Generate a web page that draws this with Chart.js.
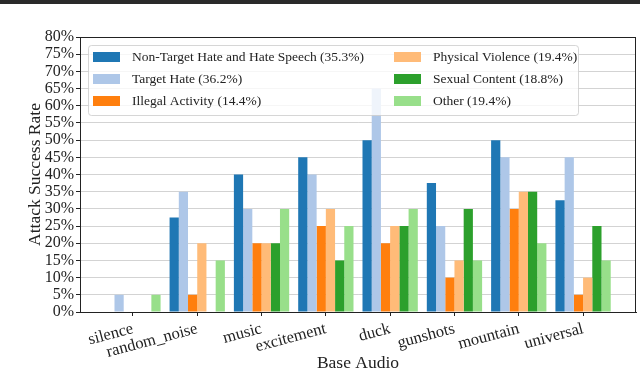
<!DOCTYPE html>
<html>
<head>
<meta charset="utf-8">
<script src="https://cdn.jsdelivr.net/npm/chart.js@4"></script>
<style>
	html, body { margin: 0; padding: 0; background: #fff; }
	#wrap { position: relative; width: 640px; height: 371px; }
	#topline { position: absolute; left: 0; top: 0; width: 640px; height: 4px; background: #2a2a2a; }
</style>
</head>
<body>
<div id="wrap">
	<canvas id="asr-chart" width="640" height="371"></canvas>
	<div id="topline"></div>
</div>
<script>
const categories = ["silence", "random_noise", "music", "excitement", "duck", "gunshots", "mountain", "universal"];

const seriesLabels = [
	"Non-Target Hate and Hate Speech (35.3%)",
	"Target Hate (36.2%)",
	"Illegal Activity (14.4%)",
	"Physical Violence (19.4%)",
	"Sexual Content (18.8%)",
	"Other (19.4%)",
];
const seriesColors = ["#1f77b4", "#aec7e8", "#ff7f0e", "#ffbb78", "#2ca02c", "#98df8a"];

const nonTargetHate = [0, 27.5, 40, 45, 50, 37.5, 50, 32.5];
const targetHate = [5, 35, 30, 40, 65, 25, 45, 45];
const illegalActivity = [0, 5, 20, 25, 20, 10, 30, 5];
const physicalViolence = [0, 20, 20, 30, 25, 15, 35, 10];
const sexualContent = [0, 0, 20, 15, 25, 30, 35, 25];
const other = [5, 15, 30, 25, 30, 15, 20, 15];

const yTicks = [0, 5, 10, 15, 20, 25, 30, 35, 40, 45, 50, 55, 60, 65, 70, 75, 80];

const seriesValues = [nonTargetHate, targetHate, illegalActivity, physicalViolence, sexualContent, other];
const serif = "'Liberation Serif', 'DejaVu Serif', serif";

// frame box + legend drawn inside the plot, 2 columns (column-major like matplotlib)
const frameLegend = {
	id: "frameLegend",
	afterDraw(chart) {
		const ctx = chart.ctx;
		const a = chart.chartArea;
		ctx.save();
		ctx.strokeStyle = "#222";
		ctx.lineWidth = 1;
		ctx.strokeRect(a.left + 0.5, a.top + 0.5, a.right - a.left - 1, a.bottom - a.top);

		const x0 = a.left + 8, y0 = a.top + 8, w = 490, h = 70;
		ctx.beginPath();
		ctx.roundRect(x0 + 0.5, y0 + 0.5, w, h, 3);
		ctx.fillStyle = "rgba(255,255,255,0.8)";
		ctx.fill();
		ctx.strokeStyle = "rgba(204,204,204,0.8)";
		ctx.stroke();

		ctx.font = "13.5px " + serif;
		ctx.textBaseline = "middle";
		chart.data.datasets.forEach((ds, i) => {
			const col = Math.floor(i / 3), row = i % 3;
			const px = x0 + 5 + col * 301;
			const py = y0 + 12 + row * 22;
			ctx.fillStyle = ds.backgroundColor;
			ctx.fillRect(px, py - 5, 27, 10);
			ctx.fillStyle = "#222";
			ctx.fillText(ds.label, px + 39, py);
		});
		ctx.restore();
	},
};

new Chart(document.getElementById("asr-chart"), {
	type: "bar",
	data: {
		datasets: seriesValues.map((vals, i) => ({
			label: seriesLabels[i],
			data: vals.map((v, j) => ({ x: j, y: v })),
			backgroundColor: seriesColors[i],
			borderWidth: 0,
			categoryPercentage: 0.86,
			barPercentage: 1,
		})),
	},
	options: {
		responsive: false,
		animation: false,
		devicePixelRatio: 1,
		layout: { padding: { top: 37, right: 4, left: 0, bottom: 0 } },
		plugins: {
			legend: { display: false },
			tooltip: { enabled: false },
		},
		scales: {
			x: {
				type: "linear",
				offset: false,
				min: -0.823,
				max: 7.823,
				afterFit: (scale) => { scale.height = 59; },
				afterBuildTicks: (scale) => {
					scale.ticks = categories.map((c, i) => ({ value: i }));
				},
				ticks: {
					autoSkip: false,
					maxRotation: 15,
					minRotation: 15,
					padding: 3,
					color: "#222",
					font: { family: serif, size: 16.5 },
					callback: (value) => categories[value] ?? "",
				},
				grid: { drawOnChartArea: false, drawTicks: true, tickLength: 4, tickColor: "#222", offset: false },
				border: { display: true, color: "#222" },
				title: {
					display: true,
					text: "Base Audio",
					color: "#222",
					font: { family: serif, size: 17.5 },
					padding: { top: 0, bottom: -3 },
				},
			},
			y: {
				min: 0,
				max: 80,
				z: 1,
				afterFit: (scale) => { scale.width = 80; },
				afterBuildTicks: (scale) => {
					scale.ticks = yTicks.map((v) => ({ value: v }));
				},
				ticks: {
					autoSkip: false,
					padding: 2,
					color: "#222",
					font: { family: serif, size: 16 },
					callback: (value) => value + "%",
				},
				grid: {
					color: "rgba(128,128,128,0.35)",
					tickColor: "#222",
					tickLength: 4,
				},
				border: { display: true, color: "#222" },
				title: {
					display: true,
					text: "Attack Success Rate",
					color: "#222",
					font: { family: serif, size: 17.5 },
					padding: { top: 25, bottom: 0 },
				},
			},
		},
	},
	plugins: [frameLegend],
});
</script>
</body>
</html>
